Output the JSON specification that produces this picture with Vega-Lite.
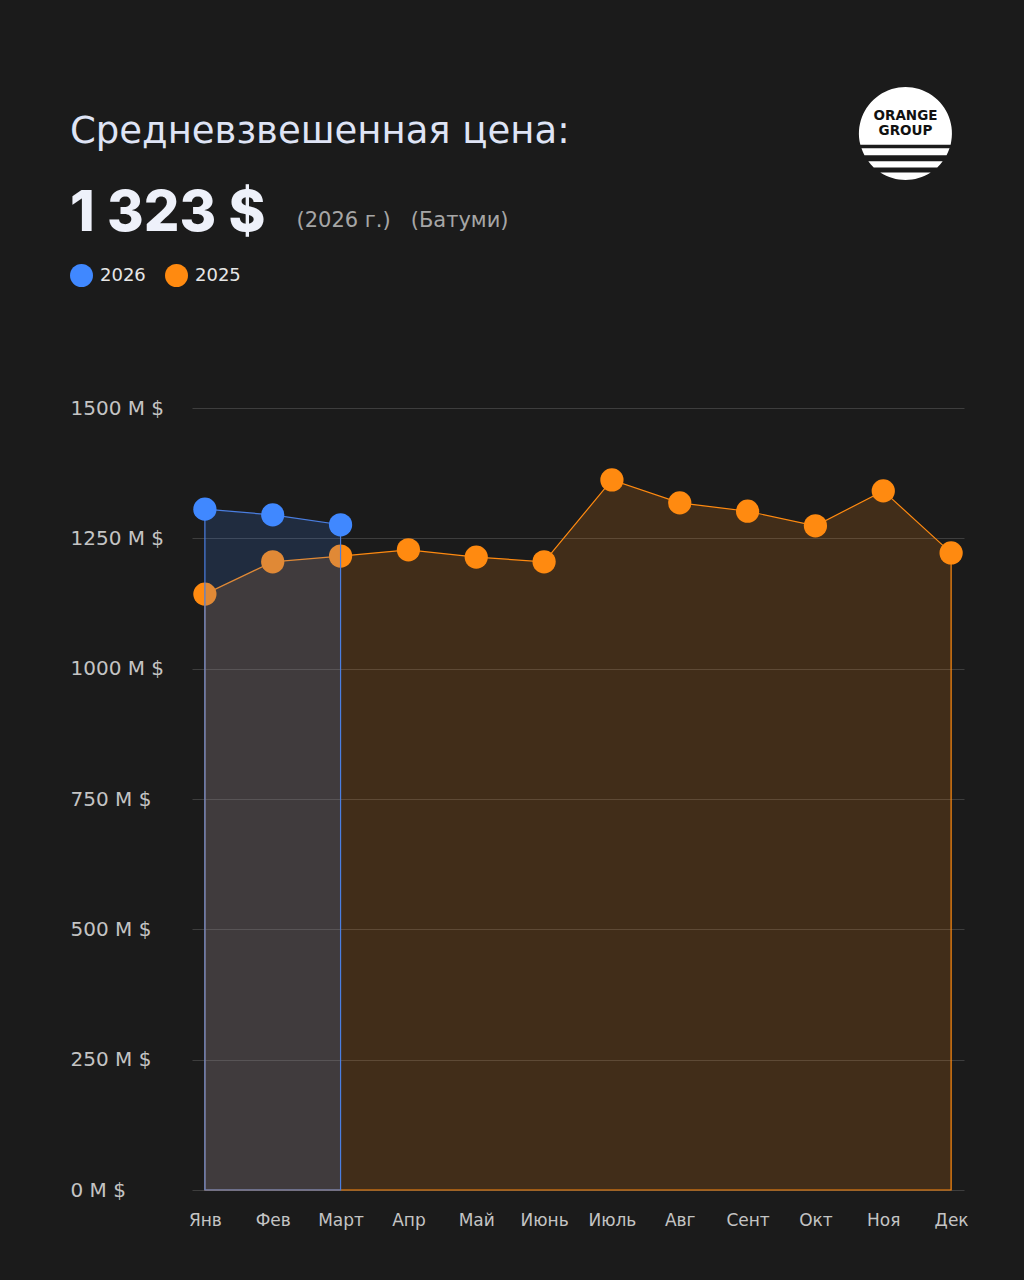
{
  "$schema": "https://vega.github.io/schema/vega-lite/v6.json",
  "autosize": {"type": "none"},
  "width": 772,
  "height": 782,
  "padding": {"left": 192, "top": 408, "right": 60, "bottom": 90},
  "background": "#1b1b1b",
  "title": {
    "text": "Средневзвешенная цена:",
    "subtitle": "1 323 $",
    "anchor": "start",
    "frame": "bounds",
    "font": "DejaVu Sans",
    "fontSize": 37,
    "fontWeight": "normal",
    "color": "#dfe4f5",
    "subtitleFont": "Inter",
    "subtitleFontSize": 56,
    "subtitleFontWeight": 800,
    "subtitleColor": "#eef1fa",
    "subtitlePadding": 36,
    "offset": -167
  },
  "data": {
    "values": [
      {"month": "Янв", "year": "2026", "value": 1306},
      {"month": "Фев", "year": "2026", "value": 1295},
      {"month": "Март", "year": "2026", "value": 1276},
      {"month": "Янв", "year": "2025", "value": 1143},
      {"month": "Фев", "year": "2025", "value": 1205},
      {"month": "Март", "year": "2025", "value": 1216},
      {"month": "Апр", "year": "2025", "value": 1228},
      {"month": "Май", "year": "2025", "value": 1214},
      {"month": "Июнь", "year": "2025", "value": 1205},
      {"month": "Июль", "year": "2025", "value": 1362},
      {"month": "Авг", "year": "2025", "value": 1318},
      {"month": "Сент", "year": "2025", "value": 1302},
      {"month": "Окт", "year": "2025", "value": 1274},
      {"month": "Ноя", "year": "2025", "value": 1341},
      {"month": "Дек", "year": "2025", "value": 1222}
    ]
  },
  "encoding": {
    "x": {
      "field": "month",
      "type": "ordinal",
      "sort": ["Янв", "Фев", "Март", "Апр", "Май", "Июнь", "Июль", "Авг", "Сент", "Окт", "Ноя", "Дек"],
      "scale": {"type": "point", "padding": 0.19},
      "axis": {
        "title": null,
        "domain": false,
        "ticks": false,
        "grid": false,
        "labelAngle": 0,
        "labelPadding": 22,
        "labelFont": "DejaVu Sans",
        "labelFontSize": 17,
        "labelColor": "#c4c4c4"
      }
    },
    "y": {
      "field": "value",
      "type": "quantitative",
      "scale": {"domain": [0, 1500], "nice": false},
      "axis": {
        "values": [0, 250, 500, 750, 1000, 1250, 1500],
        "labelExpr": "datum.value + ' M $'",
        "domain": false,
        "ticks": false,
        "grid": true,
        "gridColor": "#3e3e3e",
        "gridWidth": 1,
        "labelAlign": "left",
        "labelBaseline": "middle",
        "labelPadding": 122,
        "labelFont": "DejaVu Sans",
        "labelFontSize": 20,
        "labelColor": "#c4c4c4",
        "title": "(2026 г.)\u00a0\u00a0 (Батуми)",
        "titleAngle": 0,
        "titleAlign": "left",
        "titleBaseline": "alphabetic",
        "titleX": 104,
        "titleY": -182,
        "titleFont": "DejaVu Sans",
        "titleFontSize": 21,
        "titleFontWeight": "normal",
        "titleColor": "#a6a6a6"
      }
    }
  },
  "layer": [
    {
      "transform": [{"filter": "datum.year == '2025'"}],
      "mark": {"type": "area", "color": "#ff8a10", "fillOpacity": 0.17, "stroke": "#ff8a10", "strokeWidth": 1.2}
    },
    {
      "transform": [{"filter": "datum.year == '2025'"}],
      "mark": {"type": "circle", "size": 540, "opacity": 1},
      "encoding": {
        "color": {
          "field": "year",
          "type": "nominal",
          "scale": {"domain": ["2026", "2025"], "range": ["#4088ff", "#ff8a10"]},
          "legend": {
            "title": null,
            "orient": "none",
            "direction": "horizontal",
            "legendX": -122,
            "legendY": -144,
            "symbolType": "circle",
            "symbolSize": 529,
            "symbolStrokeWidth": 0,
            "symbolOpacity": 1,
            "labelFont": "DejaVu Sans",
            "labelFontSize": 18,
            "labelColor": "#e6e6e6",
            "labelOffset": 7,
            "columnPadding": 19
          }
        }
      }
    },
    {
      "transform": [{"filter": "datum.year == '2026'"}],
      "mark": {"type": "area", "color": "#4088ff", "fillOpacity": 0.16, "stroke": "#4a7ee0", "strokeWidth": 1.2}
    },
    {
      "transform": [{"filter": "datum.year == '2026'"}],
      "mark": {"type": "circle", "size": 540, "opacity": 1},
      "encoding": {
        "color": {"field": "year", "type": "nominal"}
      }
    },
    {
      "data": {"values": [{"brand": "ORANGE GROUP"}]},
      "mark": {"type": "point", "filled": true, "color": "white", "opacity": 0},
      "encoding": {
        "x": null,
        "y": null,
        "shape": {
          "field": "brand",
          "type": "nominal",
          "scale": {"range": ["M-0.971,0.476A1,1,0,1,1,0.971,0.476Z M-0.947,0.556L0.947,0.556A1,1,0,0,1,0.883,0.706L-0.883,0.706A1,1,0,0,1,-0.947,0.556Z M-0.8,0.836L0.8,0.836A1,1,0,0,1,0.683,0.966L-0.683,0.966A1,1,0,0,1,-0.8,0.836Z M-0.543,1.076L0.543,1.076A1,1,0,0,1,-0.543,1.076Z"]},
          "legend": {
            "title": null,
            "orient": "none",
            "legendX": 667,
            "legendY": -332,
            "symbolSize": 8649,
            "symbolFillColor": "white",
            "symbolStrokeColor": "white",
            "symbolStrokeWidth": 0,
            "symbolOpacity": 1,
            "labelExpr": "['ORANGE', 'GROUP']",
            "labelAlign": "center",
            "labelBaseline": "bottom",
            "labelOffset": -46.5,
            "labelLimit": 0,
            "labelFont": "DejaVu Sans",
            "labelFontSize": 13.5,
            "labelFontWeight": "bold",
            "labelColor": "#111111"
          }
        }
      }
    }
  ],
  "config": {
    "view": {"stroke": null}
  }
}
